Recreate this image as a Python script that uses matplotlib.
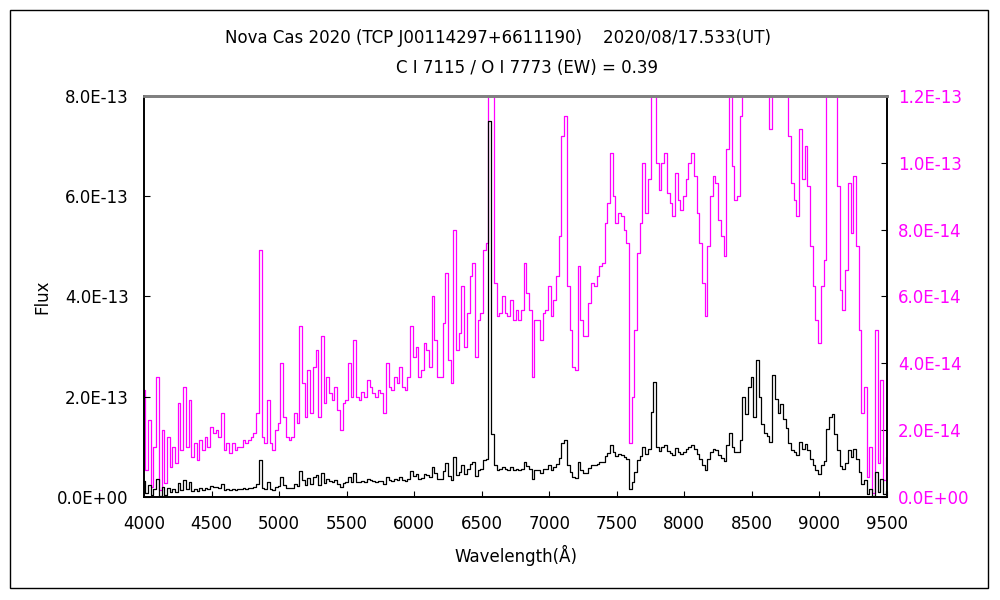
import numpy as np
import matplotlib
matplotlib.use("Agg")
import matplotlib.pyplot as plt
from matplotlib.ticker import FuncFormatter, MultipleLocator
from matplotlib.patches import Rectangle

plt.rcParams['font.family'] = ['DejaVu Sans', 'Noto Sans CJK JP']

# wavelength grid (A) and flux, in units of 1e-14
wave = np.arange(4000, 9501, 20)
flux = [
    3.2, 0.8, 2.3, 0.3, 1.5, 3.6, 0.2, 2.0, 0.4, 1.8,
    0.9, 1.5, 1.0, 2.8, 1.4, 3.3, 1.5, 2.9, 1.2, 1.6,
    1.1, 1.7, 1.4, 1.8, 1.5, 2.1, 1.9, 2.0, 1.8, 2.5,
    1.4, 1.6, 1.3, 1.6, 1.4, 1.5, 1.5, 1.7, 1.6, 1.7,
    1.8, 1.9, 2.5, 7.4, 1.8, 1.6, 2.9, 1.6, 1.4, 2.0,
    2.2, 4.0, 2.4, 1.8, 1.7, 1.8, 2.5, 2.2, 5.1, 3.4,
    2.4, 3.8, 2.5, 3.9, 4.4, 2.4, 4.8, 2.8, 3.6, 3.1,
    2.9, 3.3, 2.6, 2.0, 2.8, 2.9, 4.0, 3.0, 4.7, 3.0,
    2.9, 3.15, 3.0, 3.5, 3.3, 3.1, 3.0, 3.2, 3.1, 2.5,
    4.0, 3.3, 3.2, 3.6, 3.4, 3.9, 3.3, 3.2, 3.6, 5.1,
    4.2, 4.5, 3.6, 3.8, 4.6, 4.4, 3.9, 6.0, 4.7, 3.6,
    3.6, 5.2, 6.7, 4.1, 3.4, 8.0, 4.4, 4.9, 6.3, 4.5,
    5.5, 6.6, 7.0, 4.2, 5.3, 5.5, 7.4, 7.6, 75.0, 12.5,
    6.4, 5.4, 5.5, 6.0, 5.5, 5.4, 5.9, 5.3, 5.6, 5.3,
    5.6, 7.0, 6.1, 5.6, 3.6, 5.3, 5.3, 4.7, 5.5, 5.6,
    6.3, 5.4, 5.9, 6.6, 7.8, 10.8, 11.4, 6.3, 5.0, 3.9,
    3.8, 6.9, 5.3, 4.8, 4.8, 5.8, 6.4, 6.3, 6.6, 6.9,
    7.0, 8.2, 8.8, 10.3, 9.0, 8.2, 8.5, 8.4, 8.0, 7.6,
    1.6, 3.0, 5.0, 7.3, 8.2, 10.0, 8.5, 9.5, 17.0, 23.0,
    10.0, 9.2, 10.0, 10.3, 9.1, 8.8, 8.4, 9.7, 8.9, 8.6,
    9.0, 9.5, 10.0, 10.3, 9.6, 8.5, 7.6, 6.4, 5.4, 7.5,
    9.0, 9.6, 9.4, 8.3, 7.8, 7.2, 10.4, 12.7, 9.9, 8.9,
    9.0, 11.4, 20.0, 16.5, 22.0, 24.0, 16.0, 27.4, 20.0, 14.5,
    12.7, 12.2, 11.0, 24.4, 19.5, 16.7, 18.5, 15.5, 13.8, 10.8,
    9.4, 8.9, 8.4, 11.0, 9.5, 10.5, 9.3, 7.5, 6.3, 5.3,
    4.6, 6.3, 7.1, 13.5, 16.0, 16.5, 12.5, 9.3, 6.2, 5.6,
    6.8, 9.4, 7.9, 9.6, 7.5, 5.0, 2.5, 3.3, 0.6, 1.5,
    0.1, 5.0, 1.0, 3.5, 0.5, 1.2,
]
flux = np.array(flux) * 1e-14

title1 = "Nova Cas 2020 (TCP J00114297+6611190)    2020/08/17.533(UT)"
title2 = "C Ⅰ 7115 / O Ⅰ 7773 (EW) = 0.39"

fig = plt.figure(figsize=(10, 6), dpi=100)
ax = fig.add_axes([0.144, 0.172, 0.743, 0.668])
ax2 = ax.twinx()
ax.set_zorder(ax2.get_zorder() + 1)
ax.patch.set_visible(False)

ax2.plot(wave, flux, color='#ff00ff', lw=0.9, drawstyle='steps-mid')
ax.plot(wave, flux, color='black', lw=0.9, drawstyle='steps-mid')

ax.set_xlim(4000, 9500)
ax.set_ylim(0, 8e-13)
ax2.set_ylim(0, 1.2e-13)
ax.xaxis.set_major_locator(MultipleLocator(500))
ax.yaxis.set_major_locator(MultipleLocator(2e-13))
ax2.yaxis.set_major_locator(MultipleLocator(2e-14))

fmt = FuncFormatter(lambda v, p: "%.1E" % v)
ax.yaxis.set_major_formatter(fmt)
ax2.yaxis.set_major_formatter(fmt)

ax.tick_params(axis='both', direction='in', length=4, labelsize=12)
ax.tick_params(axis='y', pad=11)
ax.tick_params(axis='x', pad=13)
ax2.tick_params(axis='y', direction='in', length=4, labelsize=12, pad=8,
                colors='#ff00ff', color='black')

for a in (ax, ax2):
    a.spines['top'].set_color('#808080')
    a.spines['top'].set_linewidth(2)
    for s in ('left', 'right', 'bottom'):
        a.spines[s].set_color('black')
        a.spines[s].set_linewidth(1.2)

ax.set_xlabel("Wavelength(Å)", fontsize=12, labelpad=9)
ax.set_ylabel("Flux", fontsize=12, labelpad=4)

fig.text(0.498, 0.937, title1, ha='center', va='center', fontsize=12)
fig.text(0.527, 0.887, title2, ha='center', va='center', fontsize=12)

fig.patches.append(Rectangle((0.010, 0.020), 0.978, 0.963, transform=fig.transFigure,
                             fill=False, edgecolor='black', lw=1.0))

fig.savefig("out.png", dpi=100)
